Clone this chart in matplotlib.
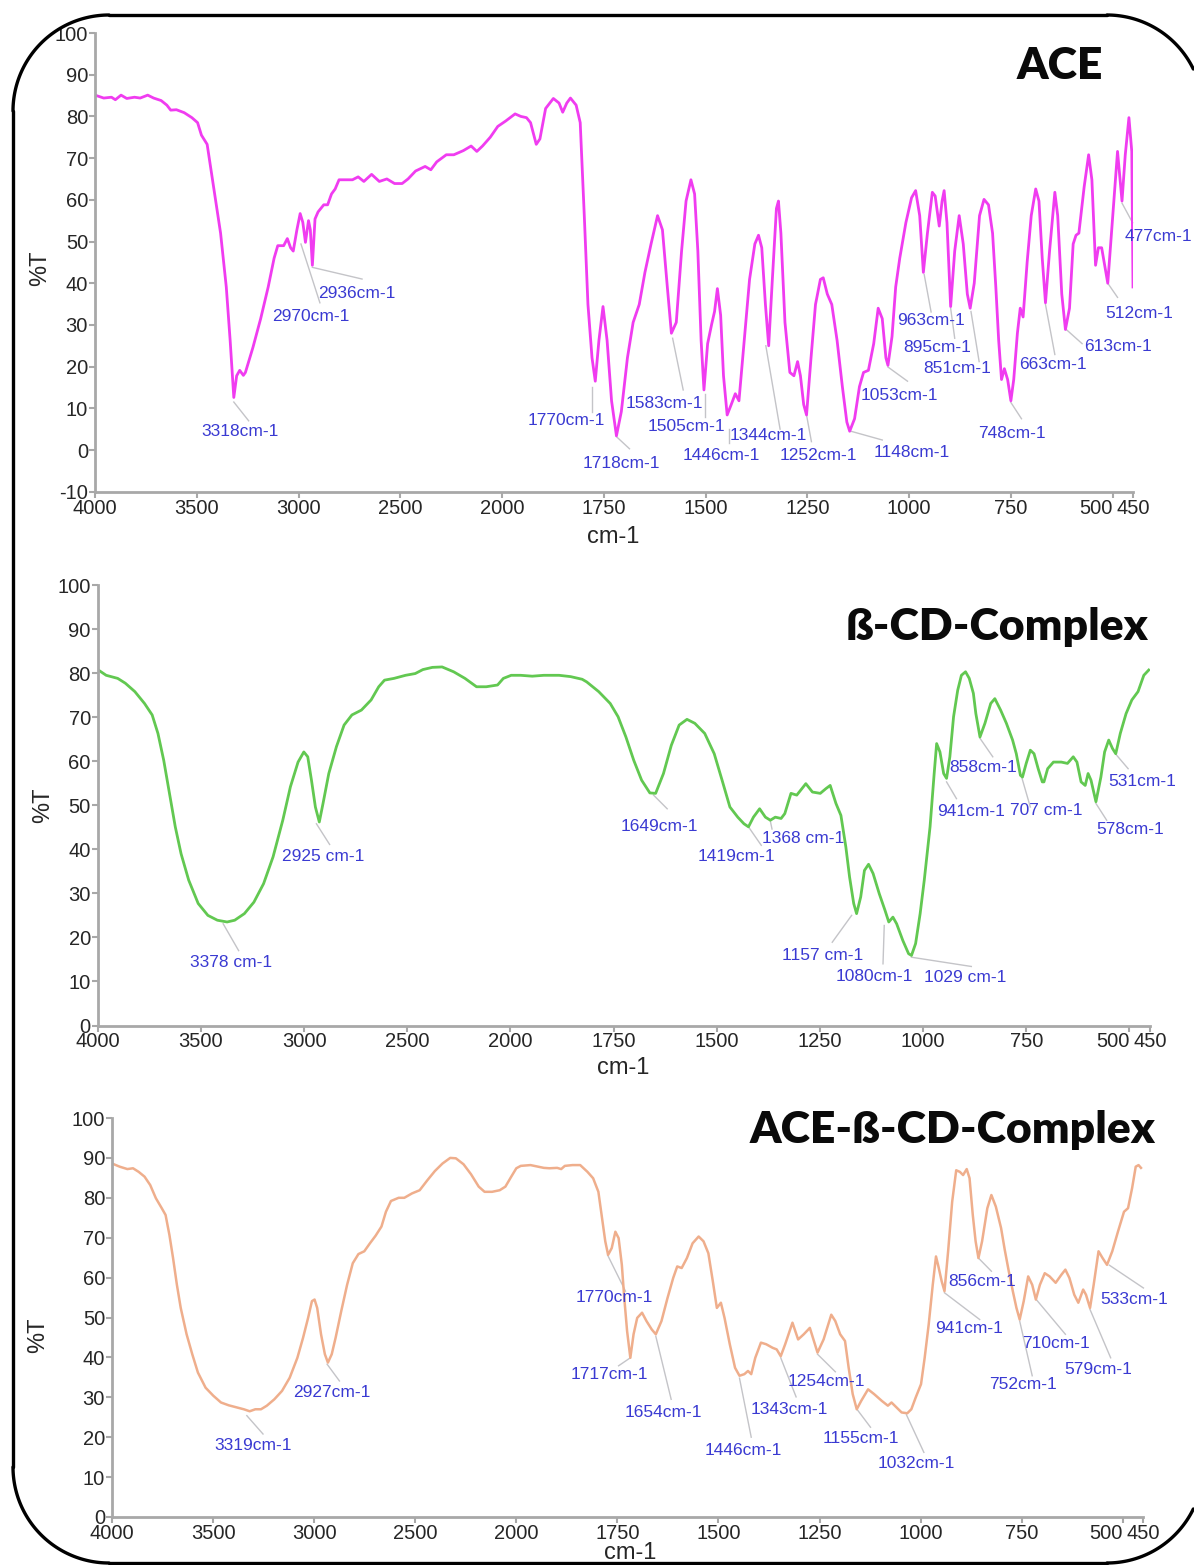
import numpy as np
import matplotlib
matplotlib.use("Agg")
import matplotlib.pyplot as plt

plt.rcParams['font.family'] = ['Liberation Sans', 'DejaVu Sans']
plt.rcParams['axes.unicode_minus'] = False

# ---------------- spectra ----------------
ace_wn = [4000, 3957, 3919, 3900, 3872, 3844, 3806, 3778, 3741, 3712, 3675, 3647, 3628, 3600,
          3562, 3524, 3496, 3477, 3449, 3412, 3383, 3355, 3336, 3318, 3304, 3289, 3271, 3261,
          3224, 3186, 3149, 3120, 3102, 3073, 3055, 3039, 3026, 3008, 2992, 2979, 2966, 2951,
          2942, 2932, 2919, 2904, 2876, 2857, 2838, 2820, 2801, 2773, 2735, 2707, 2679, 2641,
          2603, 2566, 2528, 2491, 2462, 2425, 2378, 2350, 2321, 2274, 2237, 2190, 2152, 2124,
          2096, 2058, 2021, 1991, 1968, 1954, 1940, 1930, 1916, 1907, 1893, 1874, 1860, 1851,
          1841, 1832, 1818, 1808, 1798, 1789, 1779, 1771, 1762, 1752, 1742, 1731, 1719, 1707,
          1692, 1678, 1663, 1649, 1634, 1618, 1606, 1594, 1584, 1572, 1559, 1548, 1536, 1527,
          1519, 1511, 1504, 1495, 1485, 1478, 1471, 1463, 1456, 1447, 1437, 1427, 1418, 1405,
          1392, 1379, 1370, 1362, 1353, 1345, 1336, 1326, 1321, 1315, 1305, 1293, 1283, 1274,
          1267, 1259, 1252, 1241, 1230, 1218, 1211, 1201, 1190, 1177, 1164, 1153, 1146, 1134,
          1122, 1112, 1100, 1087, 1076, 1066, 1057, 1052, 1042, 1033, 1023, 1008, 994, 984,
          974, 965, 955, 943, 936, 926, 919, 914, 907, 898, 888, 877, 867, 857, 850, 840, 827,
          816, 805, 795, 787, 780, 773, 766, 758, 750, 743, 734, 727, 720, 710, 700, 689, 681,
          673, 665, 655, 642, 635, 625, 616, 606, 597, 590, 583, 570, 559, 551, 542, 535, 527,
          512, 497, 488, 477, 469, 460, 453, 450]
ace_t = [85.1, 84.4, 84.6, 84.0, 85.1, 84.3, 84.6, 84.4, 85.1, 84.4, 83.8, 82.7, 81.5, 81.6,
         80.9, 79.7, 78.5, 75.5, 73.3, 61.4, 52.0, 39.1, 26.3, 12.6, 17.8, 19.1, 17.9, 18.6,
         24.6, 31.5, 39.1, 46.0, 49.0, 49.0, 50.7, 48.5, 47.7, 52.8, 56.7, 54.6, 49.8, 55.0,
         52.8, 44.3, 55.4, 57.1, 58.8, 58.8, 61.4, 62.6, 64.8, 64.8, 64.8, 65.5, 64.4, 66.1,
         64.4, 65.0, 63.9, 63.9, 65.0, 66.9, 68.0, 67.2, 69.1, 70.8, 70.8, 71.8, 72.9, 71.6,
         72.9, 75.0, 77.6, 78.9, 80.6, 80.0, 79.7, 78.5, 73.3, 74.6, 81.9, 84.3, 83.2, 81.0,
         83.2, 84.4, 82.7, 78.5, 56.2, 34.9, 22.1, 16.5, 26.3, 34.4, 26.3, 11.8, 3.4, 9.2,
         22.1, 30.6, 34.9, 42.6, 49.4, 56.2, 52.8, 39.1, 28.0, 30.6, 47.7, 59.7, 64.8, 61.4,
         47.7, 26.3, 14.4, 25.5, 30.2, 33.2, 38.7, 32.3, 17.8, 8.4, 10.9, 13.5, 11.8, 26.3,
         40.9, 49.4, 51.5, 48.5, 34.9, 25.0, 40.9, 57.9, 59.7, 52.0, 30.6, 18.6, 17.8, 21.2,
         17.8, 10.9, 8.4, 22.1, 34.9, 40.9, 41.3, 37.4, 34.9, 26.3, 15.2, 6.7, 4.5, 7.5,
         15.2, 18.6, 19.1, 25.5, 34.0, 31.5, 22.1, 20.3, 27.2, 39.1, 46.0, 54.5, 60.5, 62.2,
         56.2, 42.6, 52.0, 61.8, 60.9, 53.7, 59.7, 62.2, 54.5, 34.4, 47.7, 56.2, 49.4, 37.4,
         34.0, 40.0, 56.2, 60.1, 58.8, 52.0, 39.1, 26.3, 16.9, 19.5, 16.9, 11.8, 16.9, 28.0,
         34.0, 31.9, 45.1, 56.2, 62.6, 59.7, 46.0, 35.3, 47.7, 61.8, 56.2, 37.4, 28.9, 34.0,
         49.4, 51.5, 52.0, 63.1, 70.8, 64.8, 44.3, 48.5, 48.5, 40.0, 59.7, 71.6, 59.7, 70.8,
         79.7, 71.6, 39.1]

bcd_wn = [4000, 3959, 3903, 3866, 3820, 3773, 3736, 3708, 3680, 3652, 3624, 3596, 3559, 3513,
          3466, 3420, 3373, 3336, 3289, 3243, 3196, 3150, 3103, 3066, 3029, 3001, 2982, 2964,
          2945, 2926, 2908, 2880, 2843, 2806, 2768, 2722, 2675, 2638, 2610, 2564, 2508, 2461,
          2424, 2378, 2331, 2275, 2220, 2164, 2117, 2062, 2034, 1998, 1975, 1947, 1919, 1882,
          1854, 1826, 1815, 1786, 1758, 1739, 1720, 1701, 1682, 1662, 1648, 1629, 1610, 1591,
          1572, 1553, 1529, 1506, 1487, 1468, 1449, 1434, 1423, 1411, 1396, 1382, 1370, 1358,
          1344, 1335, 1320, 1306, 1284, 1268, 1249, 1235, 1225, 1211, 1199, 1187, 1178, 1168,
          1161, 1151, 1142, 1132, 1121, 1106, 1092, 1083, 1073, 1064, 1049, 1035, 1028, 1018,
          1007, 997, 983, 973, 967, 959, 950, 943, 935, 926, 916, 907, 897, 888, 878, 872, 862,
          850, 836, 826, 812, 798, 783, 774, 764, 759, 750, 740, 731, 721, 711, 707, 698, 684,
          665, 650, 636, 627, 617, 607, 600, 593, 581, 569, 560, 550, 541, 533, 522, 508, 494,
          479, 465, 453]
bcd_t = [80.8, 79.5, 78.8, 77.7, 75.8, 73.1, 70.5, 66.3, 60.2, 52.7, 45.1, 39.0, 33.0, 27.7,
         25.0, 23.9, 23.5, 23.9, 25.4, 28.0, 32.2, 38.3, 46.6, 54.2, 59.8, 62.1, 61.0, 55.7,
         49.6, 46.2, 50.4, 57.2, 63.3, 68.2, 70.5, 71.6, 73.9, 76.9, 78.4, 78.8, 79.5, 79.9,
         80.8, 81.3, 81.4, 80.3, 78.8, 76.9, 76.9, 77.3, 78.8, 79.5, 79.5, 79.3, 79.5, 79.5,
         79.2, 78.6, 78.0, 75.8, 73.1, 70.1, 65.5, 60.2, 55.7, 52.8, 52.7, 57.2, 63.6, 68.2,
         69.5, 68.6, 66.3, 61.7, 55.7, 49.6, 47.3, 45.8, 45.1, 47.3, 49.2, 47.3, 46.6, 47.3,
         47.0, 48.1, 52.7, 52.3, 54.9, 53.0, 52.7, 53.8, 54.5, 50.4, 47.7, 40.5, 33.7, 27.7,
         25.4, 29.2, 35.2, 36.6, 34.5, 29.9, 26.1, 23.5, 24.6, 23.1, 19.3, 16.3, 15.9, 18.6,
         25.4, 33.0, 45.1, 57.2, 64.0, 62.1, 57.2, 56.1, 61.0, 70.1, 76.1, 79.5, 80.3, 78.8,
         75.4, 70.8, 65.5, 68.6, 73.1, 74.2, 71.6, 68.6, 64.8, 61.7, 56.8, 56.4, 59.5, 62.5,
         61.7, 58.3, 55.3, 55.3, 58.3, 59.8, 59.8, 59.5, 61.0, 59.8, 55.3, 54.5, 57.2, 55.7,
         50.8, 56.4, 62.1, 64.8, 62.9, 61.7, 66.3, 70.8, 73.9, 75.8, 79.5, 80.7]

cpx_wn = [4000, 3962, 3924, 3896, 3868, 3839, 3811, 3783, 3754, 3735, 3716, 3698, 3679, 3660,
          3631, 3603, 3575, 3537, 3499, 3461, 3423, 3386, 3348, 3319, 3291, 3263, 3234, 3197,
          3159, 3121, 3083, 3055, 3030, 3011, 2998, 2985, 2966, 2947, 2932, 2913, 2894, 2866,
          2837, 2809, 2781, 2752, 2724, 2696, 2667, 2645, 2620, 2582, 2554, 2516, 2478, 2440,
          2403, 2365, 2327, 2299, 2261, 2224, 2186, 2157, 2120, 2082, 2054, 2025, 2000, 1989,
          1965, 1946, 1932, 1918, 1899, 1889, 1880, 1861, 1842, 1824, 1810, 1797, 1788, 1780,
          1773, 1764, 1755, 1747, 1739, 1733, 1726, 1718, 1710, 1701, 1689, 1678, 1665, 1655,
          1641, 1626, 1612, 1602, 1591, 1578, 1564, 1549, 1537, 1525, 1514, 1504, 1494, 1485,
          1472, 1459, 1448, 1436, 1427, 1419, 1409, 1395, 1382, 1366, 1356, 1346, 1335, 1317,
          1303, 1289, 1274, 1264, 1255, 1240, 1221, 1211, 1199, 1187, 1178, 1168, 1158, 1147,
          1130, 1115, 1096, 1081, 1072, 1060, 1047, 1033, 1023, 1012, 999, 990, 980, 970, 962,
          956, 948, 941, 932, 922, 912, 903, 895, 886, 879, 871, 864, 857, 848, 835, 825, 814,
          801, 792, 782, 772, 763, 755, 745, 734, 724, 715, 705, 693, 681, 666, 652, 642, 632,
          620, 610, 598, 591, 581, 572, 560, 550, 539, 526, 512, 497, 487, 477, 468, 461, 455]
cpx_t = [88.6, 87.8, 87.2, 87.4, 86.5, 85.3, 83.2, 79.9, 77.4, 75.7, 70.7, 64.9, 58.2, 52.4,
         45.8, 40.8, 36.2, 32.4, 30.4, 28.7, 28.0, 27.5, 27.0, 26.5, 27.0, 27.0, 27.9, 29.5,
         31.6, 34.9, 39.9, 44.9, 49.9, 54.1, 54.5, 52.4, 45.8, 40.8, 38.7, 40.8, 44.9, 51.6,
         58.2, 63.6, 65.9, 66.6, 68.6, 70.5, 72.8, 76.5, 79.2, 80.0, 80.0, 81.1, 81.9, 84.4,
         86.7, 88.6, 90.0, 89.9, 88.4, 85.9, 82.8, 81.5, 81.5, 81.9, 82.8, 85.3, 87.4, 88.0,
         88.2, 87.8, 87.5, 87.4, 87.5, 87.2, 88.0, 88.2, 88.2, 86.5, 84.9, 81.5, 74.9, 69.1,
         65.7, 67.4, 71.5, 69.9, 63.2, 54.9, 46.6, 39.9, 45.8, 49.9, 51.2, 49.1, 47.0, 45.8,
         49.1, 54.9, 59.9, 62.8, 62.4, 64.9, 68.6, 70.3, 69.1, 66.1, 59.1, 52.4, 53.7, 49.9,
         43.3, 37.4, 35.4, 35.8, 36.6, 35.8, 39.9, 43.7, 43.3, 42.4, 42.0, 40.3, 43.3, 48.7,
         44.5, 45.8, 47.4, 44.1, 41.2, 44.5, 50.7, 49.1, 45.8, 44.1, 37.4, 30.8, 27.0, 29.1,
         32.0, 30.8, 29.1, 27.9, 28.7, 27.5, 26.2, 26.0, 27.0, 30.0, 33.3, 39.9, 48.3, 58.2,
         65.3, 62.8, 59.1, 56.6, 66.6, 79.0, 86.9, 86.5, 85.7, 87.2, 84.9, 75.7, 69.1, 64.9,
         69.1, 77.4, 80.7, 77.8, 72.4, 67.0, 61.6, 56.6, 52.4, 49.5, 54.1, 60.3, 58.2, 54.5,
         58.2, 61.1, 60.3, 58.7, 60.7, 62.0, 59.9, 55.7, 53.7, 57.0, 55.7, 52.4, 58.2, 66.6,
         64.9, 63.2, 66.6, 71.5, 76.5, 77.4, 82.4, 87.8, 88.2, 87.5]

# ---------------- peak labels: text, text position, leader start, leader end ----------------
ace_labels = [
    ("3318cm-1", (3289, 4.5), (3318, 11.5), (3245, 7.0)),
    ("2970cm-1", (2938, 31.9), (2988, 49.4), (2895, 35.3)),
    ("2936cm-1", (2716, 37.6), (2932, 43.8), (2688, 41.0)),
    ("1770cm-1", (1841, 7.0), (1779, 15.2), (1779, 9.2)),
    ("1718cm-1", (1707, -3.3), (1719, 3.2), (1687, 0.3)),
    ("1583cm-1", (1601, 11.1), (1581, 26.8), (1555, 14.4)),
    ("1505cm-1", (1546, 5.6), (1502, 13.5), (1502, 8.0)),
    ("1446cm-1", (1461, -1.2), (1442, 5.0), (1442, 1.6)),
    ("1344cm-1", (1347, 3.4), (1352, 25.0), (1317, 5.0)),
    ("1252cm-1", (1222, -1.2), (1252, 8.4), (1240, 2.0)),
    ("1148cm-1", (994, -0.6), (1143, 4.5), (1066, 2.4)),
    ("1053cm-1", (1023, 13.1), (1052, 19.9), (1004, 16.5)),
    ("963cm-1", (946, 31.0), (963, 42.1), (946, 33.1)),
    ("895cm-1", (930, 24.6), (898, 34.0), (888, 26.8)),
    ("851cm-1", (883, 19.5), (848, 33.2), (828, 21.2)),
    ("748cm-1", (748, 3.9), (750, 11.4), (724, 7.5)),
    ("663cm-1", (647, 20.5), (665, 34.9), (642, 22.9)),
    ("613cm-1", (488, 24.8), (614, 28.9), (575, 25.5)),
    ("512cm-1", (435, 32.7), (512, 40.0), (488, 36.6)),
    ("477cm-1", (387, 51.1), (477, 59.2), (451, 54.5)),
]
bcd_labels = [
    ("3378 cm-1", (3354, 14.4), (3392, 23.1), (3317, 17.0)),
    ("2925 cm-1", (2908, 38.4), (2940, 45.8), (2876, 41.1)),
    ("1649cm-1", (1639, 45.2), (1653, 52.3), (1620, 49.2)),
    ("1419cm-1", (1451, 38.4), (1423, 45.1), (1392, 40.9)),
    ("1368 cm-1", (1290, 42.4), (1370, 46.4), (1366, 44.6)),
    ("1157 cm-1", (1244, 15.9), (1173, 25.0), (1220, 18.9)),
    ("1080cm-1", (1119, 11.1), (1094, 22.7), (1097, 14.0)),
    ("1029 cm-1", (897, 11.0), (1028, 15.5), (883, 13.4)),
    ("941cm-1", (883, 48.5), (943, 55.3), (919, 51.5)),
    ("858cm-1", (854, 58.5), (862, 65.2), (831, 61.0)),
    ("707 cm-1", (702, 48.7), (761, 56.4), (740, 49.6)),
    ("578cm-1", (498, 44.5), (581, 50.4), (555, 46.6)),
    ("531cm-1", (470, 55.3), (533, 61.6), (503, 58.3)),
]
cpx_labels = [
    ("3319cm-1", (3301, 17.9), (3333, 25.4), (3253, 20.8)),
    ("2927cm-1", (2913, 31.2), (2936, 38.3), (2875, 34.1)),
    ("1770cm-1", (1757, 55.1), (1774, 65.6), (1730, 56.6)),
    ("1717cm-1", (1771, 35.6), (1718, 39.9), (1747, 37.9)),
    ("1654cm-1", (1636, 26.2), (1655, 45.3), (1617, 29.5)),
    ("1446cm-1", (1438, 16.6), (1448, 34.8), (1419, 20.0)),
    ("1343cm-1", (1325, 27.0), (1346, 39.9), (1308, 30.1)),
    ("1254cm-1", (1234, 33.9), (1255, 40.8), (1211, 36.4)),
    ("1155cm-1", (1147, 19.7), (1156, 26.8), (1124, 22.5)),
    ("1032cm-1", (1011, 13.5), (1035, 25.6), (992, 16.2)),
    ("941cm-1", (880, 47.3), (941, 56.2), (854, 49.5)),
    ("856cm-1", (849, 58.9), (857, 64.9), (825, 61.6)),
    ("752cm-1", (748, 33.3), (755, 49.1), (724, 35.4)),
    ("710cm-1", (666, 43.4), (714, 54.5), (642, 45.8)),
    ("579cm-1", (560, 37.0), (581, 52.0), (530, 39.9)),
    ("533cm-1", (473, 54.5), (533, 63.1), (449, 57.4)),
]

x_ticks = [4000, 3500, 3000, 2500, 2000, 1750, 1500, 1250, 1000, 750, 500, 450]

W, H = 1194, 1565
fig = plt.figure(figsize=(W / 100, H / 100), dpi=100)


def fwd(x):
    x = np.asarray(x, dtype=float)
    return np.where(x > 2000, 2000 + (x - 2000) / 2.0, x)


def inv(u):
    u = np.asarray(u, dtype=float)
    return np.where(u > 2000, 2000 + (u - 2000) * 2.0, u)


def make_axes(x0, x1, ytop, ybot):
    return fig.add_axes([x0 / W, 1 - ybot / H, (x1 - x0) / W, (ybot - ytop) / H])


AXIS_GREY = '#a8a8a8'
LABEL_BLUE = '#3a3ad2'
LEADER_GREY = '#c4c4c8'
TICK_TEXT = '#262626'
TICK_SIZE = 14.5


def style(ax, ymin, yticks):
    ax.set_xscale('function', functions=(fwd, inv))
    ax.set_xlim(4000, 450)
    ax.set_ylim(ymin, 100)
    ax.set_xticks(x_ticks)
    # the "500" label sits just left of its tick so it does not run into "450"
    ax.set_xticklabels(['' if t == 500 else str(t) for t in x_ticks])
    ax.annotate('500', xy=(500, 0), xycoords=('data', 'axes fraction'),
                xytext=(-12, -5), textcoords='offset points', ha='center', va='top',
                fontsize=TICK_SIZE, color=TICK_TEXT)
    ax.set_yticks(yticks)
    for s in ('top', 'right'):
        ax.spines[s].set_visible(False)
    for s in ('left', 'bottom'):
        ax.spines[s].set_color(AXIS_GREY)
        ax.spines[s].set_linewidth(2)
    ax.tick_params(axis='both', colors=AXIS_GREY, labelcolor=TICK_TEXT,
                   labelsize=TICK_SIZE, length=4, width=1.5, direction='out', pad=1)
    ax.patch.set_alpha(0)


def draw_labels(ax, labels):
    for txt, (tx, ty), (ax0, ay0), (ax1, ay1) in labels:
        ax.plot([ax0, ax1], [ay0, ay1], color=LEADER_GREY, lw=1.0, clip_on=False, zorder=1)
        ax.text(tx, ty, txt, color=LABEL_BLUE, fontsize=12.5, ha='center', va='center',
                clip_on=False, zorder=3)


# ACE
ax1 = make_axes(95, 1133, 33, 491.7)
style(ax1, -10, list(range(-10, 101, 10)))
ax1.plot(ace_wn, ace_t, color='#f03cf0', lw=2.0, zorder=2)
draw_labels(ax1, ace_labels)

# beta-CD complex
ax2 = make_axes(97.7, 1150, 585, 1025.5)
style(ax2, 0, list(range(0, 101, 10)))
ax2.plot(bcd_wn, bcd_t, color='#62c851', lw=2.0, zorder=2)
draw_labels(ax2, bcd_labels)

# ACE-beta-CD complex
ax3 = make_axes(112, 1143, 1118, 1517)
style(ax3, 0, list(range(0, 101, 10)))
ax3.plot(cpx_wn, cpx_t, color='#efae8c', lw=1.8, zorder=2)
draw_labels(ax3, cpx_labels)


def fig_text(x, y, s, **kw):
    fig.text(x / W, 1 - y / H, s, **kw)


title_kw = dict(family=['Lato', 'DejaVu Sans'], fontweight='heavy', fontsize=32,
                color='#0a0a0a', ha='right', va='baseline')
fig_text(1103, 79, 'ACE', **title_kw)
fig_text(1149, 640, 'ß-CD-Complex', **title_kw)
fig_text(1156, 1143, 'ACE-ß-CD-Complex', **title_kw)

axis_kw = dict(fontsize=17, color=TICK_TEXT, ha='center', va='center')
fig_text(40, 268, '%T', rotation=90, **axis_kw)
fig_text(43, 805, '%T', rotation=90, **axis_kw)
fig_text(38, 1335, '%T', rotation=90, **axis_kw)
fig_text(613, 537, 'cm-1', **axis_kw)
fig_text(623, 1068, 'cm-1', **axis_kw)
fig_text(630, 1553, 'cm-1', **axis_kw)

# rounded outer frame on an overlay measured in canvas pixels (y downwards).
# The box's right side lies beyond the canvas, so only its corner arcs show there.
overlay = fig.add_axes([0, 0, 1, 1], zorder=20)
overlay.set_xlim(0, W)
overlay.set_ylim(H, 0)
overlay.axis('off')
overlay.patch.set_alpha(0)

FX0, FX1, FY0, FY1, FR = 13, 1203, 15, 1563, 96
frame_kw = dict(color='black', lw=2.4, solid_capstyle='round', clip_on=True)


def corner(cx, cy, a0, a1):
    a = np.radians(np.linspace(a0, a1, 60))
    return cx + FR * np.cos(a), cy - FR * np.sin(a)


# left side, top-left and bottom-left corners, top and bottom edges
xs, ys = corner(FX0 + FR, FY0 + FR, 90, 180)
overlay.plot(xs, ys, **frame_kw)
xs, ys = corner(FX0 + FR, FY1 - FR, 180, 270)
overlay.plot(xs, ys, **frame_kw)
overlay.plot([FX0, FX0], [FY0 + FR, FY1 - FR], **frame_kw)
overlay.plot([FX0 + FR, FX1 - FR], [FY0, FY0], **frame_kw)
overlay.plot([FX0 + FR, FX1 - FR], [FY1, FY1], **frame_kw)
# right corners, cut at the canvas edge
xs, ys = corner(FX1 - FR, FY0 + FR, 0, 90)
keep = xs <= W
overlay.plot(xs[keep], ys[keep], **frame_kw)
xs, ys = corner(FX1 - FR, FY1 - FR, 270, 360)
keep = xs <= W
overlay.plot(xs[keep], ys[keep], **frame_kw)

fig.savefig('out.png', dpi=100)
